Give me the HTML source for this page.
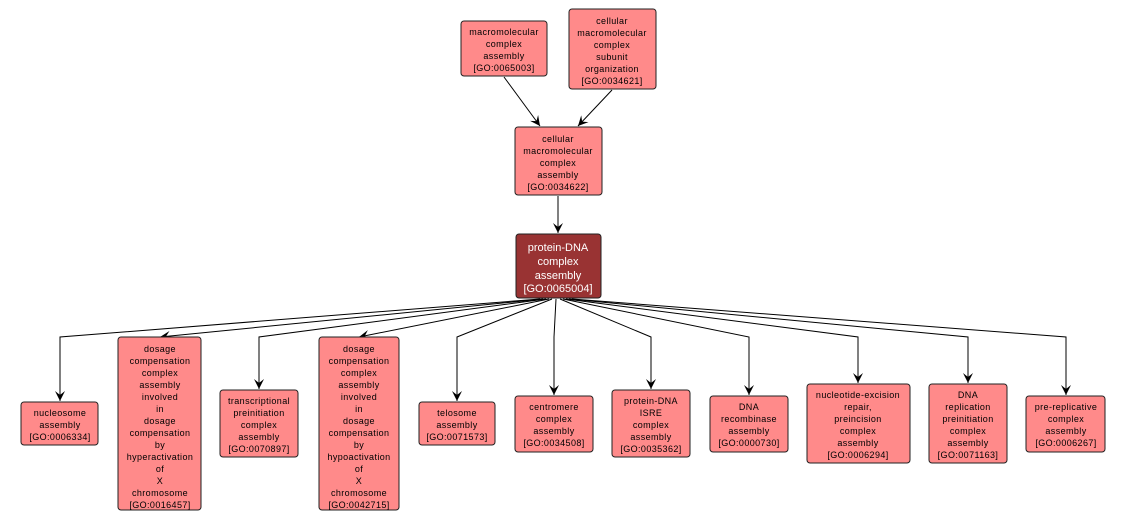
<!DOCTYPE html>
<html><head><meta charset="utf-8"><style>
html,body{margin:0;padding:0;background:#fff}
svg{display:block}
text{font-family:"Liberation Sans",sans-serif;font-size:9px;fill:#000;text-anchor:middle;letter-spacing:0.4px}
.n{fill:#ff8a8a;stroke:#222;stroke-width:1}
.e{fill:none;stroke:#000;stroke-width:1}
</style></head><body>
<svg width="1128" height="522" viewBox="0 0 1128 522" xmlns="http://www.w3.org/2000/svg">
<defs><marker id="a" markerWidth="12" markerHeight="10" refX="10" refY="5" orient="auto" markerUnits="userSpaceOnUse"><path d="M0,0 L10,5 L0,10 L4,5 Z" fill="#000"/></marker></defs>
<g class="e" marker-end="url(#a)">
<polyline points="504,77 540,126"/>
<polyline points="612,90 578,126"/>
<polyline points="558,196 558,233"/>
<polyline points="540,299 60,337 60,401"/>
<polyline points="543,299 160,337"/>
<polyline points="546,299 259,337 259,389"/>
<polyline points="549,299 359,337"/>
<polyline points="552,299 457,337 457,401"/>
<polyline points="556,299 554,337 554,395"/>
<polyline points="560,299 651,337 651,389"/>
<polyline points="563,299 749,337 749,395"/>
<polyline points="566,299 858,337 858,383"/>
<polyline points="569,299 968,337 968,383"/>
<polyline points="572,299 1066,337 1066,395"/>
</g>
<rect class="n" x="461" y="21" width="86" height="55" rx="3"/>
<text x="504" y="35">macromolecular</text><text x="504" y="47">complex</text><text x="504" y="59">assembly</text><text x="504" y="71">[GO:0065003]</text>
<rect class="n" x="569" y="9" width="87" height="80" rx="3"/>
<text x="612" y="24">cellular</text><text x="612" y="36">macromolecular</text><text x="612" y="48">complex</text><text x="612" y="60">subunit</text><text x="612" y="72">organization</text><text x="612" y="84">[GO:0034621]</text>
<rect class="n" x="515" y="127" width="87" height="68" rx="3"/>
<text x="558" y="142">cellular</text><text x="558" y="154">macromolecular</text><text x="558" y="166">complex</text><text x="558" y="178">assembly</text><text x="558" y="190">[GO:0034622]</text>
<rect x="516" y="234" width="85" height="64" rx="3" fill="#993333" stroke="#222"/>
<g style="font-size:11px"><text x="558" y="251" style="fill:#fff;font-size:11px;letter-spacing:0">protein-DNA</text><text x="558" y="265" style="fill:#fff;font-size:11px;letter-spacing:0">complex</text><text x="558" y="279" style="fill:#fff;font-size:11px;letter-spacing:0">assembly</text><text x="558" y="292" style="fill:#fff;font-size:11px;letter-spacing:0">[GO:0065004]</text></g>
<rect class="n" x="21" y="402" width="77" height="43" rx="3"/>
<text x="60" y="416">nucleosome</text><text x="60" y="428">assembly</text><text x="60" y="440">[GO:0006334]</text>
<rect class="n" x="118" y="337" width="83" height="173" rx="3"/>
<text x="160" y="352">dosage</text><text x="160" y="364">compensation</text><text x="160" y="376">complex</text><text x="160" y="388">assembly</text><text x="160" y="400">involved</text><text x="160" y="412">in</text><text x="160" y="424">dosage</text><text x="160" y="436">compensation</text><text x="160" y="448">by</text><text x="160" y="460">hyperactivation</text><text x="160" y="472">of</text><text x="160" y="484">X</text><text x="160" y="496">chromosome</text><text x="160" y="508">[GO:0016457]</text>
<rect class="n" x="220" y="390" width="78" height="67" rx="3"/>
<text x="259" y="404">transcriptional</text><text x="259" y="416">preinitiation</text><text x="259" y="428">complex</text><text x="259" y="440">assembly</text><text x="259" y="452">[GO:0070897]</text>
<rect class="n" x="319" y="337" width="80" height="173" rx="3"/>
<text x="359" y="352">dosage</text><text x="359" y="364">compensation</text><text x="359" y="376">complex</text><text x="359" y="388">assembly</text><text x="359" y="400">involved</text><text x="359" y="412">in</text><text x="359" y="424">dosage</text><text x="359" y="436">compensation</text><text x="359" y="448">by</text><text x="359" y="460">hypoactivation</text><text x="359" y="472">of</text><text x="359" y="484">X</text><text x="359" y="496">chromosome</text><text x="359" y="508">[GO:0042715]</text>
<rect class="n" x="419" y="402" width="76" height="43" rx="3"/>
<text x="457" y="416">telosome</text><text x="457" y="428">assembly</text><text x="457" y="440">[GO:0071573]</text>
<rect class="n" x="515" y="396" width="78" height="56" rx="3"/>
<text x="554" y="410">centromere</text><text x="554" y="422">complex</text><text x="554" y="434">assembly</text><text x="554" y="446">[GO:0034508]</text>
<rect class="n" x="612" y="390" width="78" height="67" rx="3"/>
<text x="651" y="404">protein-DNA</text><text x="651" y="416">ISRE</text><text x="651" y="428">complex</text><text x="651" y="440">assembly</text><text x="651" y="452">[GO:0035362]</text>
<rect class="n" x="710" y="396" width="78" height="56" rx="3"/>
<text x="749" y="410">DNA</text><text x="749" y="422">recombinase</text><text x="749" y="434">assembly</text><text x="749" y="446">[GO:0000730]</text>
<rect class="n" x="807" y="384" width="103" height="79" rx="3"/>
<text x="858" y="398">nucleotide-excision</text><text x="858" y="410">repair,</text><text x="858" y="422">preincision</text><text x="858" y="434">complex</text><text x="858" y="446">assembly</text><text x="858" y="458">[GO:0006294]</text>
<rect class="n" x="929" y="384" width="78" height="79" rx="3"/>
<text x="968" y="398">DNA</text><text x="968" y="410">replication</text><text x="968" y="422">preinitiation</text><text x="968" y="434">complex</text><text x="968" y="446">assembly</text><text x="968" y="458">[GO:0071163]</text>
<rect class="n" x="1026" y="396" width="79" height="56" rx="3"/>
<text x="1066" y="410">pre-replicative</text><text x="1066" y="422">complex</text><text x="1066" y="434">assembly</text><text x="1066" y="446">[GO:0006267]</text>
</svg>
</body></html>
